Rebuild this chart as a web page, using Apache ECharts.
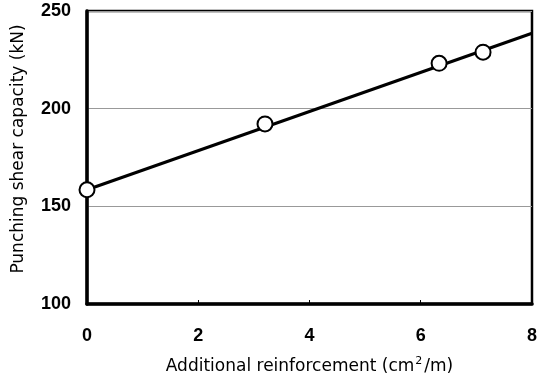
<!DOCTYPE html>
<html>
<head>
<meta charset="utf-8">
<script src="https://cdn.jsdelivr.net/npm/echarts@6/dist/echarts.min.js"></script>
<style>
  html, body { margin: 0; padding: 0; background: #fff; }
  #chart { width: 540px; height: 386px; }
</style>
</head>
<body>
<div id="chart"></div>
<script>
// Measured test results
const reinforcement = [0, 3.2, 6.33, 7.12];          // cm²/m
const capacity = [158.5, 192.2, 223.2, 228.9];        // kN

// Regression line end points
const fitX = [0, 8];
const fitY = [158.5, 238.6];

// Axis ticks
const xTicks = [0, 2, 4, 6, 8];
const yTicks = [100, 150, 200, 250];

const chart = echarts.init(document.getElementById('chart'));

const tickFont = { fontFamily: 'Liberation Sans, Arial, sans-serif', fontWeight: 'bold', fontSize: 18, color: '#000' };
const titleFont = { fontFamily: 'DejaVu Sans, sans-serif', fontSize: 17, color: '#000' };

chart.setOption({
  animation: false,
  backgroundColor: '#fff',
  grid: {
    left: 87, top: 11, right: 6, bottom: 82,
    show: true, borderColor: '#000', borderWidth: 2.5, backgroundColor: 'transparent'
  },
  xAxis: {
    type: 'value',
    min: xTicks[0], max: xTicks[xTicks.length - 1], interval: 2,
    name: '{a|Additional reinforcement (cm}{s|2}{a|/m)}',
    nameLocation: 'middle', nameGap: 52,
    nameTextStyle: {
      rich: {
        a: titleFont,
        s: { fontFamily: 'DejaVu Sans, sans-serif', fontSize: 11, color: '#000', verticalAlign: 'top', padding: [0, 2, 10, 1] }
      }
    },
    axisLine: { show: true, lineStyle: { color: '#000', width: 3.5 } },
    axisTick: { show: true, inside: true, length: 4, lineStyle: { color: '#000', width: 1 } },
    axisLabel: Object.assign({ margin: 23 }, tickFont),
    splitLine: { show: false }
  },
  yAxis: {
    type: 'value',
    min: yTicks[0], max: yTicks[yTicks.length - 1], interval: 50,
    name: 'Punching shear capacity (kN)',
    nameLocation: 'middle', nameGap: 60,
    nameTextStyle: Object.assign({ padding: [0, 0, 0, 17] }, titleFont),
    axisLine: { show: true, lineStyle: { color: '#000', width: 3.5 } },
    axisTick: { show: false },
    axisLabel: Object.assign({ margin: 16 }, tickFont),
    splitLine: { show: true, lineStyle: { color: '#999', width: 1 } }
  },
  series: [
    {
      type: 'line',
      data: fitX.map((x, i) => [x, fitY[i]]),
      symbol: 'none',
      lineStyle: { color: '#000', width: 3 },
      z: 2
    },
    {
      type: 'scatter',
      data: reinforcement.map((x, i) => [x, capacity[i]]),
      symbol: 'circle',
      symbolSize: 15,
      itemStyle: { color: '#fff', borderColor: '#000', borderWidth: 2, opacity: 1 },
      clip: false,
      z: 3
    }
  ]
});
</script>
</body>
</html>
